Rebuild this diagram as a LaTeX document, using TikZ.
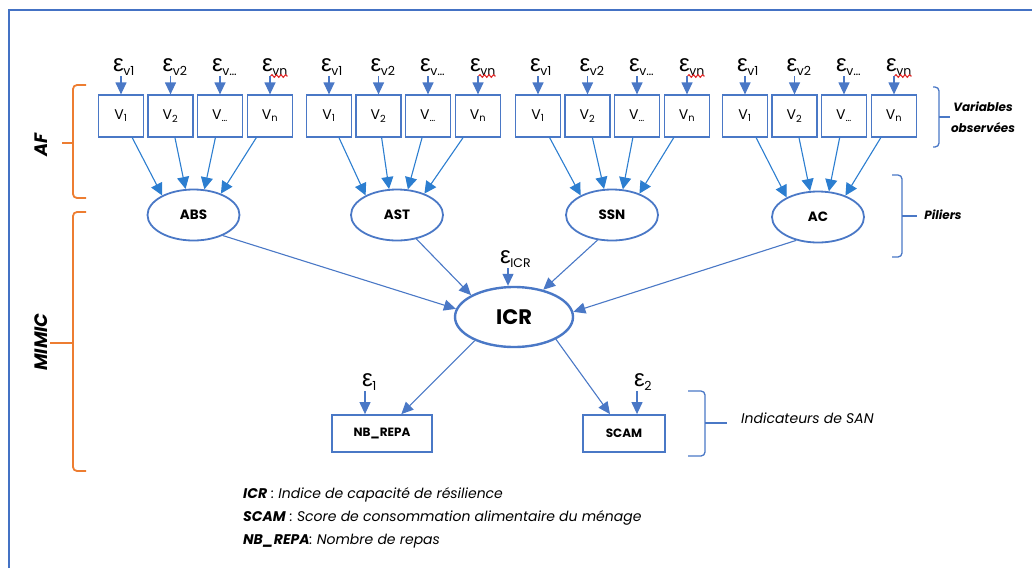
\documentclass[tikz,border=0pt]{standalone}
\usepackage{fontspec}
\setmainfont{Poppins}
\newfontfamily\greekfont{Liberation Sans}
\usetikzlibrary{arrows.meta,shapes.geometric,decorations.pathmorphing}
\definecolor{Frame}{HTML}{4472C4}
\definecolor{Line}{HTML}{4A78C6}
\definecolor{Arrow}{HTML}{2C7ED0}
\definecolor{Orange}{HTML}{ED7D31}
\definecolor{Squig}{HTML}{E02828}
\newcommand{\errt}[1]{{\greekfont\fontsize{24}{24}\selectfont ε}\kern-0.5pt\raisebox{-4.5pt}{\fontsize{12.5}{12.5}\selectfont #1}}

\begin{document}
\begin{tikzpicture}[x=1pt,y=-1pt,
    obs/.style={draw=Line,line width=1.2pt,minimum width=45pt,minimum height=42pt,inner sep=0pt,font=\fontsize{14}{14}\selectfont},
    pil/.style={ellipse,draw=Line,line width=1.8pt,minimum width=92pt,minimum height=51pt,inner sep=0pt,font=\fontsize{13.5}{13.5}\selectfont\bfseries},
    san/.style={draw=Line,line width=1.8pt,minimum height=37pt,inner sep=0pt,font=\fontsize{12}{12}\selectfont\bfseries},
    lab/.style={inner sep=0pt,anchor=south west},
    e/.style={-{Triangle[length=12pt,width=11pt]},line width=1.2pt,draw=Line},
    a/.style={-{Triangle[length=12pt,width=12pt]},line width=1.1pt,draw=Arrow},
    c/.style={-{Triangle[length=12pt,width=11pt]},line width=1.1pt,draw=Line},
    brk/.style={rounded corners=4pt,line width=1.8pt,draw=Orange},
    rbrk/.style={rounded corners=4pt,line width=1.3pt,draw=Line},
    squig/.style={draw=Squig,line width=1.1pt,decorate,decoration={snake,amplitude=1.3pt,segment length=4.5pt}}]
    \useasboundingbox (0,0) rectangle (1032,568);
    \draw[draw=Frame,line width=2pt] (9,568) |- (1032,10);
    % piliers
    \node[pil] (abs) at (193.5,215) {ABS};
    \node[pil] (ast) at (397,215) {AST};
    \node[pil] (ssn) at (612,215) {SSN};
    \node[pil] (ac) at (818,217) {AC};
    % variables observees
    \foreach \g/\x/\p in {1/121/abs,2/329/ast,3/538/ssn,4/745/ac}{
      \foreach \k/\dx/\v/\s/\t in {1/0/1/v1/148,2/49.5/2/v2/107,3/99/…/v…/67,4/149/n/vn/38}{
        \node[obs] (b\g\k) at (\x+\dx,116) {V\textsubscript{\v}};
        \node[lab] (e\g\k) at (\x+\dx-8,76) {\errt{\s}};
        \draw[e] (b\g\k.north |- e\g\k.south) -- (b\g\k);
        \draw[a] (b\g\k) -- (\p.\t);
      }
      \draw[squig] (e\g4.south east) ++(-17,0) -- ++(17,0);
    }
    % indice
    \node[pil,minimum width=118pt,minimum height=60pt,line width=2.4pt,font=\fontsize{21}{21}\selectfont\bfseries] (icr) at (514,317) {ICR};
    \node[lab] (eicr) at (500,268) {\errt{ICR}};
    \draw[e] (eicr.south west) ++(8,0) coordinate (ti) -- (ti |- icr.north);
    \draw[c] (abs.-35) -- (icr.172); \draw[c] (ast.-51) -- (icr.153); \draw[c] (ssn.-120) -- (icr.43); \draw[c] (ac.-133) -- (icr.5);
    % indicateurs
    \node[san,minimum width=100pt] (nb) at (382,433.5) {NB\_REPA};
    \node[san,minimum width=82pt] (scam) at (624,433.5) {SCAM};
    \node[lab] (e1) at (362,391) {\errt{1}};
    \node[lab] (e2) at (634,391) {\errt{2}};
    \draw[e] (e1.south west) ++(3,0) coordinate (t1) -- (t1 |- nb.north);
    \draw[e] (e2.south west) ++(3,0) coordinate (t2) -- (t2 |- scam.north);
    \draw[c] (icr.211) -- (nb); \draw[c] (icr.-28) -- (scam);
    % accolades
    \draw[brk] (86,85) -- (73,85) -- (73,198) -- (86,198); \draw[brk] (73,143) -- (62,143);
    \draw[brk] (86,212) -- (73,212) -- (73,471) -- (86,471); \draw[brk] (73,343) -- (50,343);
    \node[rotate=90,font=\fontsize{18}{18}\selectfont\bfseries\itshape] (af) at (41,145) {AF};
    \node[rotate=90,font=\fontsize{18}{18}\selectfont\bfseries\itshape] (mimic) at (41,342) {MIMIC};
    \draw[rbrk] (933,87) -- (939,87) -- (939,147) -- (933,147); \draw[rbrk] (939,117) -- (950,117);
    \draw[rbrk] (892,175) -- (902,175) -- (902,257) -- (892,257); \draw[rbrk] (902,216) -- (917,216);
    \draw[rbrk] (688,391) -- (705,391) -- (705,456) -- (688,456); \draw[rbrk] (705,423) -- (727,423);
    \node[align=center,font=\fontsize{12}{21}\selectfont\bfseries\itshape] (vo) at (983,117) {Variables\\observées};
    \node[font=\fontsize{12}{12}\selectfont\bfseries\itshape] (pl) at (943,215) {Piliers};
    \node[anchor=west,inner sep=0pt,font=\fontsize{14}{14}\selectfont\itshape] (is) at (741,418) {Indicateurs de SAN};
    % legende
    \node[anchor=north west,align=left,inner sep=0pt,font=\fontsize{14}{23}\selectfont\itshape] (leg) at (243,487) {\textbf{ICR} : Indice de capacité de résilience\\\textbf{SCAM} : Score de consommation alimentaire du ménage\\\textbf{NB\_REPA}: Nombre de repas};
\end{tikzpicture}
\end{document}
